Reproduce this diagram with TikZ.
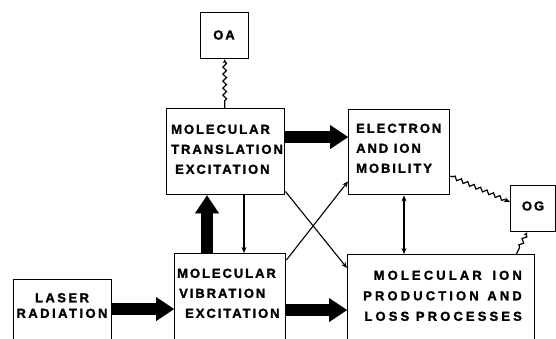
\documentclass[tikz,border=0pt]{standalone}
\usepackage{fontspec}
\setmainfont{Liberation Sans}
\newfontfamily\boxfont[LetterSpace=15,BoldFeatures={FakeBold=1.6}]{Liberation Sans}
\newfontfamily\ionfont[LetterSpace=24,BoldFeatures={FakeBold=1.6}]{Liberation Sans}
\newfontfamily\laserfont[LetterSpace=19,BoldFeatures={FakeBold=1.6}]{Liberation Sans}
\usetikzlibrary{arrows.meta,decorations.pathmorphing,calc}
\begin{document}
\begin{tikzpicture}[x=1pt,y=-1pt,
  box/.style={draw, line width=1.4pt, inner sep=0pt, anchor=north west},
  txt/.style={font=\boxfont\bfseries\fontsize{13}{20}\selectfont, inner sep=0pt},
  thin/.style={line width=1.1pt, -{Stealth[length=6pt,width=5pt]}},
  fat/.style={line width=12pt, -{Triangle[length=18pt,width=24pt,line width=0.01pt]}},
  wave/.style={line width=1.2pt, decorate, decoration={snake, segment length=7pt, amplitude=1.8pt, pre length=2pt, post length=4pt}}]
\useasboundingbox (0,0) rectangle (556,338);
\clip (0,0) rectangle (556,338);
% boxes
\node[box, minimum width=48pt, minimum height=46pt] (OA) at (200,12) {};
\node[box, minimum width=118pt, minimum height=86pt] (trans) at (166,108) {};
\node[box, minimum width=101pt, minimum height=85pt] (elec) at (348,109) {};
\node[box, minimum width=45pt, minimum height=46pt] (OG) at (510,185) {};
\node[box, minimum width=98pt, minimum height=80pt] (laser) at (13,279) {};
\node[box, minimum width=111pt, minimum height=100pt] (vib) at (174,253) {};
\node[box, minimum width=187pt, minimum height=100pt] (ion) at (347,254) {};
% texts
\node[txt] (OAt) at (224,35) {OA};
\node[txt] (OGt) at (533,206) {OG};
\node[txt, align=left, anchor=north west] (transt) at (171,124.5) {MOLECULAR\\TRANSLATION\\\hspace*{4pt}EXCITATION};
\node[txt, align=left, anchor=north west] (elect) at (356,123.5) {ELECTRON\\AND ION\\MOBILITY};
\node[txt, align=left, anchor=north west] (vibt) at (177,268.5) {MOLECULAR\\\hspace*{2pt}VIBRATION\\\hspace*{8pt}EXCITATION};
\node[txt, align=right, anchor=north east, font=\ionfont\bfseries\fontsize{13}{20.5}\selectfont] (iont) at (522,270.5) {MOLECULAR\hspace{4pt} ION\\PRODUCTION\hspace{2pt} AND\\LOSS PROCESSES};
\node[txt, align=center, anchor=north, font=\laserfont\bfseries\fontsize{13}{15.5}\selectfont] (lasert) at (62,293) {LASER\\RADIATION};
% thick arrows
\draw[fat] ([yshift=-29pt]trans.north east) -- ([yshift=-29pt]trans.north east -| elec.west);
\draw[fat] ([xshift=33pt]vib.north west) -- ([xshift=33pt]vib.north west |- trans.south);
\draw[fat] ([yshift=-30pt]laser.north east) -- ([yshift=-30pt]laser.north east -| vib.west);
\draw[fat] ([yshift=-57pt]vib.north east) -- ([yshift=-57pt]vib.north east -| ion.west);
% thin arrows
\draw[thin] ([xshift=78pt]trans.south west) -- ([xshift=78pt]trans.south west |- vib.north);
\draw[thin] ([yshift=4pt]trans.south east) -- ([yshift=-14pt]ion.north west);
\draw[thin] ([yshift=-7pt]vib.north east) -- ([yshift=14pt]elec.south west);
\draw[thin, {Stealth[length=6pt,width=5pt]}-{Stealth[length=6pt,width=5pt]}] ([xshift=56pt]elec.south west) -- ([xshift=56pt]elec.south west |- ion.north);
% wavy connectors
\draw[wave, {Stealth[length=4pt,width=4pt]}-] (OA.south) -- (trans.north -| OA.south);
\draw[wave, -{Stealth[length=6pt,width=5pt]}] ([yshift=-67pt]elec.north east) -- ([yshift=-17pt]OG.north west);
\draw[wave, {Stealth[length=4pt,width=4pt]}-] ([xshift=17pt]OG.south west) -- ([xshift=-19pt]ion.north east);
\end{tikzpicture}
\end{document}
